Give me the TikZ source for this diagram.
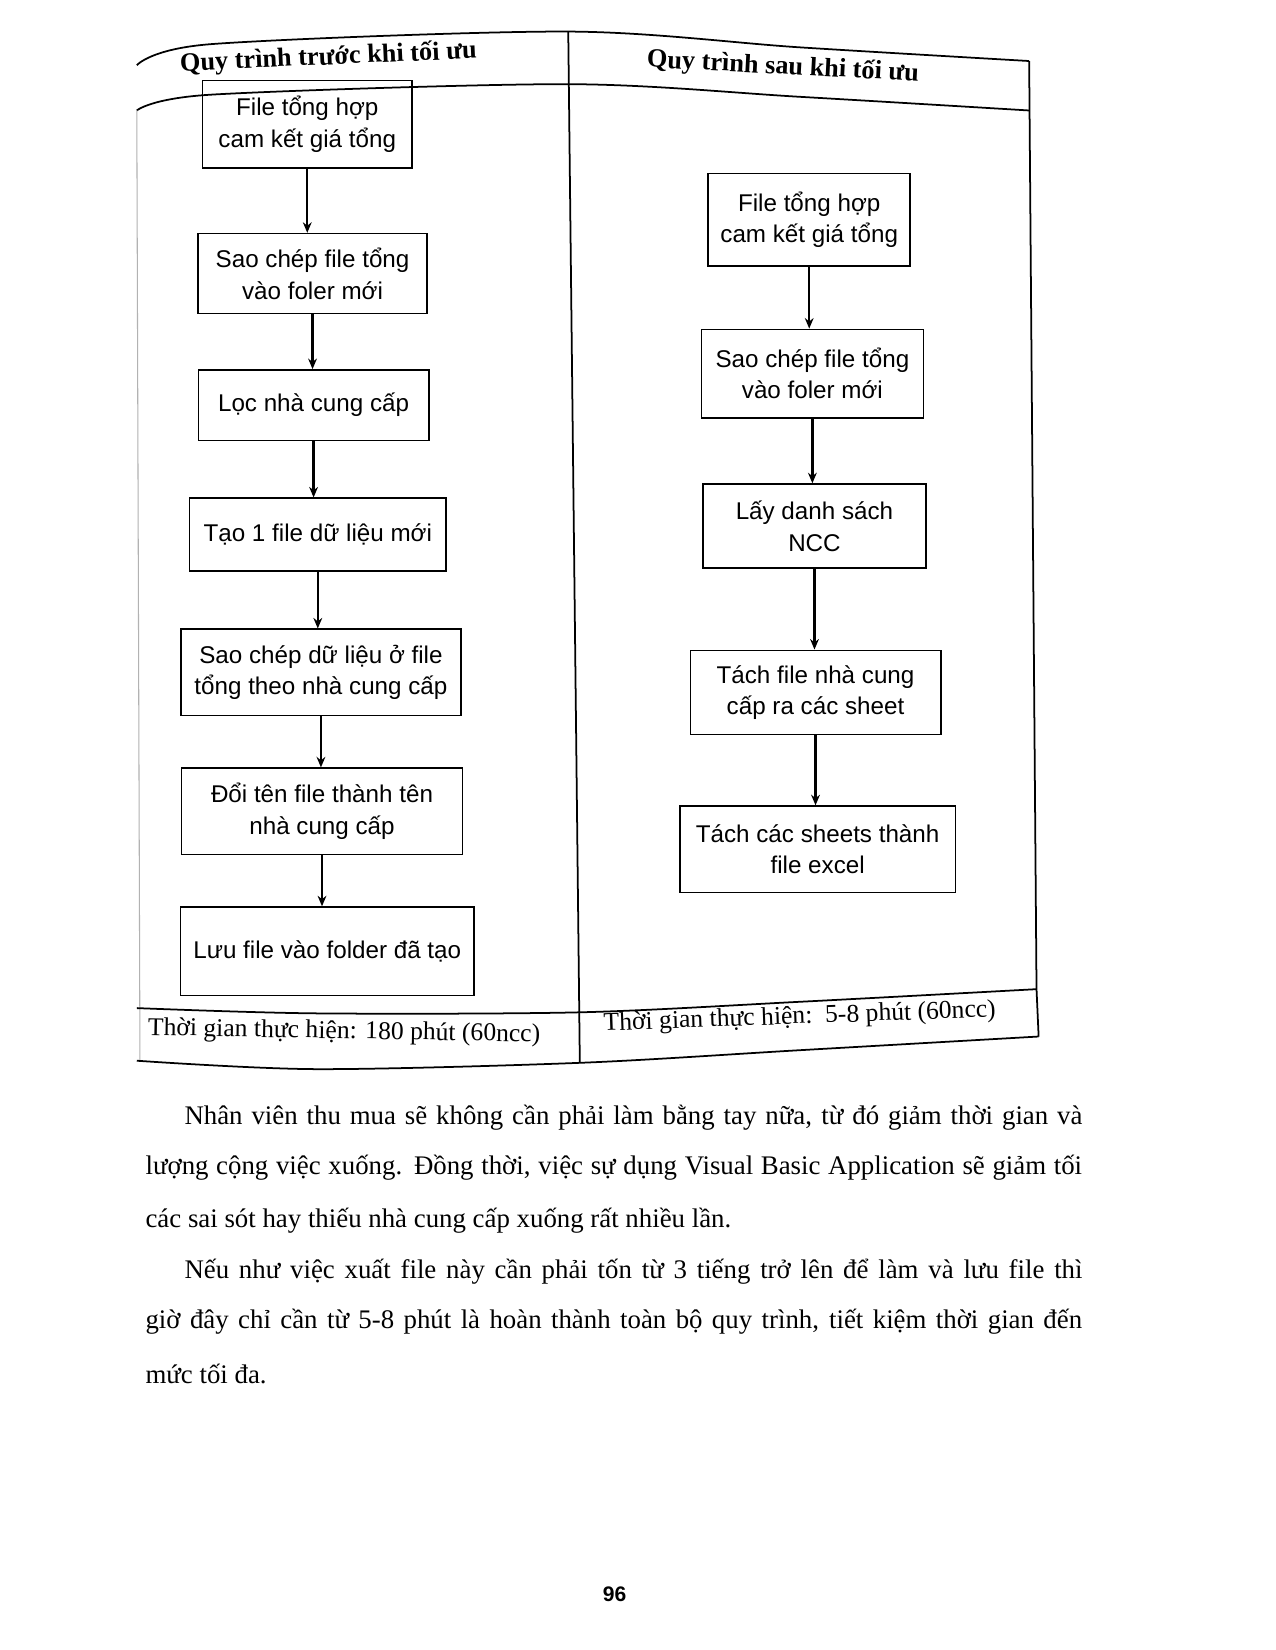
\documentclass[tikz,border=0pt]{standalone}
\usepackage{fontspec}
\setmainfont{Liberation Serif}
\newfontfamily\boxfont{Liberation Sans}
\usetikzlibrary{arrows.meta}
\begin{document}
\begin{tikzpicture}[x=0.6pt,y=-0.6pt,
 stepbox/.style={draw,line width=0.9pt,align=center,font=\boxfont\fontsize{13.8}{18}\selectfont,inner sep=2pt},
 flow/.style={line width=1.3pt,-{Stealth[length=6pt,width=5pt]}},
 rule/.style={line width=1pt},
 hdr/.style={font=\bfseries\fontsize{15}{18}\selectfont,inner sep=0pt},
 foot/.style={font=\fontsize{14.6}{18}\selectfont,inner sep=0pt},
 para/.style={anchor=west,inner sep=0pt,font=\fontsize{15.3}{18}\selectfont}]
\useasboundingbox[fill=white] (0,0) rectangle (1212,1568);

% table frame
\draw[rule] plot[smooth] coordinates {(130,62) (200,42) (540,30) (760,45) (978,58)};
\draw[rule] plot[smooth] coordinates {(130,105) (200,90) (540,80) (760,92) (978,105)};
\draw[rule] (978,58) -- (985,940) -- (987,985);
\draw[rule] (540,30) -- (551,1010);
\draw[gray!60,line width=0.6pt] (130,105) -- (133,1008);
\draw[rule] plot[smooth] coordinates {(130,958) (300,963) (551,962) (760,952) (985,940)};
\draw[rule] plot[smooth] coordinates {(130,1008) (300,1016) (551,1010) (760,998) (987,985)};

% headers
\node[hdr,rotate=2.5] (H1) at (312,55) {Quy trình trước khi tối ưu};
\node[hdr,rotate=-3] (H2) at (744,64) {Quy trình sau khi tối ưu};

% left column
\node[stepbox,minimum width=119.4pt,minimum height=49.8pt] (L1) at (292,118) {File tổng hợp\\cam kết giá tổng};
\node[stepbox,minimum width=130.8pt,minimum height=45.6pt] (L2) at (297,260) {Sao chép file tổng\\vào foler mới};
\node[stepbox,minimum width=131.4pt,minimum height=40.2pt] (L3) at (298,385) {Lọc nhà cung cấp};
\node[stepbox,minimum width=146.4pt,minimum height=41.4pt] (L4) at (302,508) {Tạo 1 file dữ liệu mới};
\node[stepbox,minimum width=159.6pt,minimum height=49.2pt] (L5) at (305,639) {Sao chép dữ liệu ở file\\tổng theo nhà cung cấp};
\node[stepbox,minimum width=160.2pt,minimum height=49.2pt] (L6) at (306,771) {Đổi tên file thành tên\\nhà cung cấp};
\node[stepbox,minimum width=167.4pt,minimum height=50.4pt] (L7) at (311,904) {Lưu file vào folder đã tạo};

\draw[flow] (L1.south) -- (L1.south |- L2.north);
\draw[flow] (L2.south) -- (L2.south |- L3.north);
\draw[flow] (L3.south) -- (L3.south |- L4.north);
\draw[flow] (L4.south) -- (L4.south |- L5.north);
\draw[flow] (L5.south) -- (L5.south |- L6.north);
\draw[flow] (L6.south) -- (L6.south |- L7.north);

% right column
\node[stepbox,minimum width=115.2pt,minimum height=52.8pt] (R1) at (769,209) {File tổng hợp\\cam kết giá tổng};
\node[stepbox,minimum width=126.6pt,minimum height=50.4pt] (R2) at (772,355) {Sao chép file tổng\\vào foler mới};
\node[stepbox,minimum width=127.2pt,minimum height=48pt] (R3) at (774,500) {Lấy danh sách\\NCC};
\node[stepbox,minimum width=142.8pt,minimum height=48pt] (R4) at (775,658) {Tách file nhà cung\\cấp ra các sheet};
\node[stepbox,minimum width=157.2pt,minimum height=49.2pt] (R5) at (777,807) {Tách các sheets thành\\file excel};

\draw[flow] (R1.south) -- (R1.south |- R2.north);
\draw[flow] (R2.south) -- (R2.south |- R3.north);
\draw[flow] (R3.south) -- (R3.south |- R4.north);
\draw[flow] (R4.south) -- (R4.south |- R5.north);

% footers
\node[foot,rotate=-1] (F1) at (327,981) {Thời gian thực hiện: 180 phút (60ncc)};
\node[foot,rotate=2] (F2) at (760,967) {Thời gian thực hiện:~~5-8 phút (60ncc)};

% paragraphs
\node[para] (P1) at (175,1062) {\makebox[512pt][s]{Nhân viên thu mua sẽ không cần phải làm bằng tay nữa, từ đó giảm thời gian và}};
\node[para] (P2) at (138,1110) {\makebox[534pt][s]{lượng cộng việc xuống. Đồng thời, việc sự dụng Visual Basic Application sẽ giảm tối}};
\node[para] (P3) at (138,1160) {các sai sót hay thiếu nhà cung cấp xuống rất nhiều lần.};
\node[para] (P4) at (175,1208) {\makebox[512pt][s]{Nếu như việc xuất file này cần phải tốn từ 3 tiếng trở lên để làm và lưu file thì}};
\node[para] (P5) at (138,1256) {\makebox[534pt][s]{giờ đây chỉ cần từ 5-8 phút là hoàn thành toàn bộ quy trình, tiết kiệm thời gian đến}};
\node[para] (P6) at (138,1306) {mức tối đa.};

\node[font=\boxfont\bfseries\fontsize{12}{14}\selectfont] (PG) at (584,1515) {96};
\end{tikzpicture}
\end{document}
